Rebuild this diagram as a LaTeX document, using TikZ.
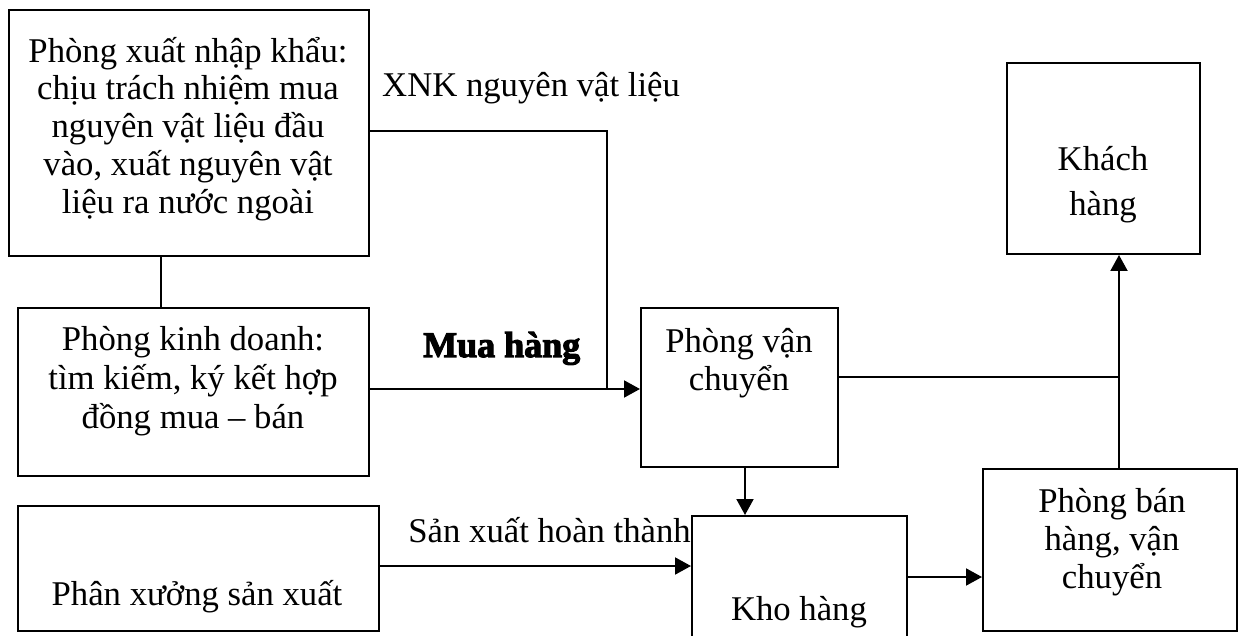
\documentclass[tikz,border=0pt]{standalone}
\usepackage{fontspec}
\setmainfont{Liberation Serif}
\newfontface\muafont[FakeBold=3]{Liberation Serif Bold}
\usetikzlibrary{arrows.meta}
% fixed line spacing inside the multi-line boxes
\lineskiplimit=-100pt
\lineskip=0pt
\newcommand{\linetop}{\vrule width 0pt height 40pt depth 0pt\relax}
\begin{document}
\begin{tikzpicture}[x=1pt,y=-1pt,
  box/.style={draw, line width=2pt, inner sep=0pt},
  boxtext/.style={inner sep=0pt, align=center, anchor=north,
    font=\fontsize{34.7}{#1}\selectfont},
  boxtext/.default=38.5,
  lbl/.style={inner sep=0pt, font=\fontsize{34.7}{38.5}\selectfont},
  conn/.style={line width=2pt},
  arr/.style={conn, -{Triangle[length=16pt,width=17pt]}}]
  \fill[white] (0,0) rectangle (1240,636);
  \clip (0,0) rectangle (1240,636);

  % departments
  \node[box, minimum width=360pt, minimum height=246pt] (xnk) at (189,133) {};
  \node[box, minimum width=351pt, minimum height=168pt] (kd)  at (193.5,392) {};
  \node[box, minimum width=361pt, minimum height=125pt] (px)  at (198.5,568.5) {};
  \node[box, minimum width=197pt, minimum height=159pt] (vc)  at (739.5,387.5) {};
  \node[box, minimum width=193pt, minimum height=191pt] (kh)  at (1103.5,158.5) {};
  \node[box, minimum width=215pt, minimum height=134pt] (kho) at (799.5,583) {};
  \node[box, minimum width=254pt, minimum height=162pt] (pb)  at (1110,550) {};

  % box texts
  \node[boxtext=37.8] (txnk) at (188,22)
    {\linetop Phòng xuất nhập khẩu:\\chịu trách nhiệm mua\\nguyên vật liệu đầu\\vào, xuất nguyên vật\\liệu ra nước ngoài};
  \node[boxtext=39] (tkd) at (193,310)
    {\linetop Phòng kinh doanh:\\tìm kiếm, ký kết hợp\\đồng mua – bán};
  \node[boxtext=38] (tvc) at (739,312) {\linetop Phòng vận\\chuyển};
  \node[boxtext] (tpx) at (197,565) {\linetop Phân xưởng sản xuất};
  \node[boxtext] (tkho) at (799,580) {\linetop Kho hàng};
  \node[boxtext=38] (tpb) at (1112,472) {\linetop Phòng bán\\hàng, vận\\chuyển};
  \node[boxtext=45] (tkh) at (1103,130) {\linetop Khách\\hàng};

  % connector labels
  \node[lbl, anchor=base west] (lxnk) at (382,97) {XNK nguyên vật liệu};
  \node[inner sep=0pt, anchor=base west, font=\fontsize{36}{38}\muafont] (lmua) at (423,357) {Mua hàng};
  \node[lbl, anchor=base east] (lsx) at (691,542) {Sản xuất hoàn thành};

  % routing points
  \coordinate (kdx) at (161,0);
  \coordinate (bend) at (607,131);
  \coordinate (join) at (607,389);
  \coordinate (dx) at (745,0);
  \coordinate (sxy) at (0,566);
  \coordinate (khoy) at (0,577);
  \coordinate (vcy) at (0,377);
  \coordinate (up) at (1119,377);

  % connectors
  \draw[conn] (xnk.south -| kdx) -- (kd.north -| kdx);
  \draw[conn] (xnk.east |- bend) -- (bend) -- (join);
  \draw[arr] (kd.east |- join) -- (vc.west |- join);
  \draw[arr] (vc.south -| dx) -- (kho.north -| dx);
  \draw[arr] (px.east |- sxy) -- (kho.west |- sxy);
  \draw[arr] (kho.east |- khoy) -- (pb.west |- khoy);
  \draw[conn] (vc.east |- vcy) -- (up);
  \draw[arr] (pb.north -| up) -- (kh.south -| up);
\end{tikzpicture}
\end{document}
